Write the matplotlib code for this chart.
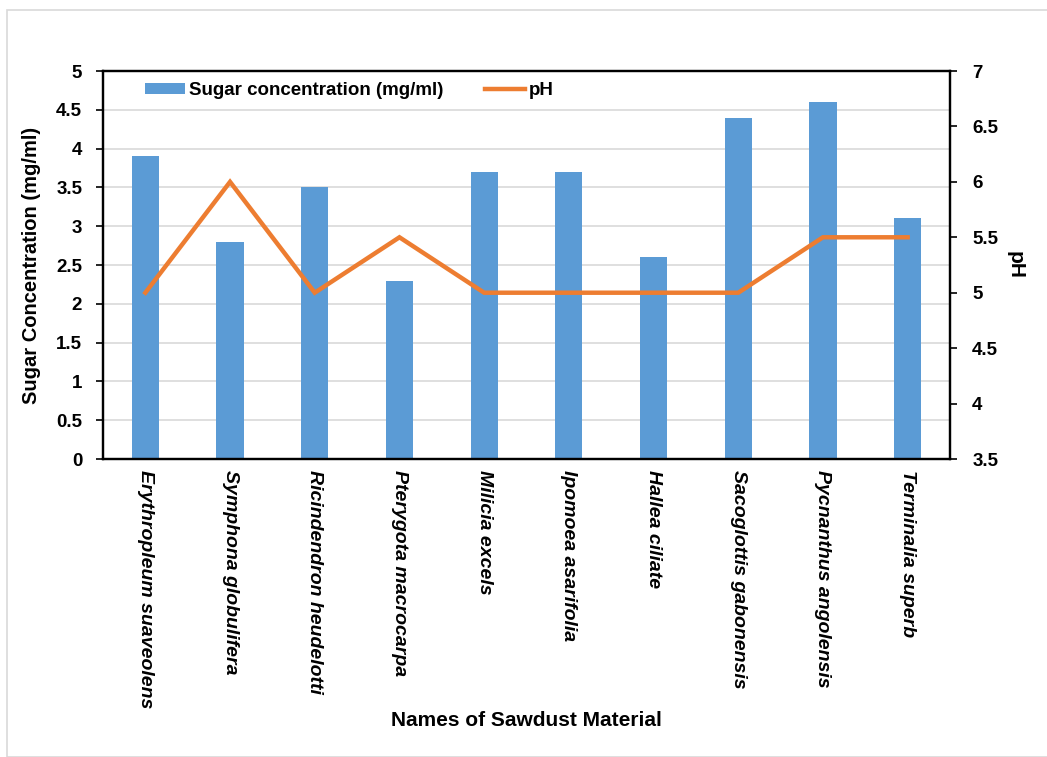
import matplotlib.pyplot as plt
from matplotlib.patches import Rectangle

# sawdust samples and measured values
species = ['Erythropleum suaveolens', 'Symphona globulifera', 'Ricindendron heudelotti',
           'Pterygota macrocarpa', 'Milicia excels', 'Ipomoea asarifolia', 'Hallea ciliate',
           'Sacoglottis gabonensis', 'Pycnanthus angolensis', 'Terminalia superb']
sugar = [3.9, 2.8, 3.5, 2.3, 3.7, 3.7, 2.6, 4.4, 4.6, 3.1]
ph = [5.0, 6.0, 5.0, 5.5, 5.0, 5.0, 5.0, 5.0, 5.5, 5.5]

sugar_ticks = [0, 0.5, 1, 1.5, 2, 2.5, 3, 3.5, 4, 4.5, 5]
ph_ticks = [3.5, 4, 4.5, 5, 5.5, 6, 6.5, 7]

plt.rcParams['font.family'] = ['Liberation Sans', 'DejaVu Sans']
plt.rcParams['font.weight'] = 'bold'

fig = plt.figure(figsize=(10.47, 7.57), dpi=100)
# light grey frame around the whole chart area
fig.patches.append(Rectangle((7 / 1047, 0.0), 1.05, 1 - 10 / 757, transform=fig.transFigure,
                             fill=False, edgecolor='#d9d9d9', linewidth=1.2))

ax = fig.add_axes([103 / 1047, 1 - 459 / 757, 847 / 1047, 388 / 757])
x = range(len(species))
bars = ax.bar(x, sugar, width=0.32, color='#5b9bd5', zorder=2)
ax.set_xlim(-0.5, len(species) - 0.5)
ax.set_ylim(0, 5)
ax.set_yticks(sugar_ticks)
ax.set_yticklabels([f'{t:g}' for t in sugar_ticks], fontsize=13.5, fontweight='bold')
ax.yaxis.grid(True, color='#d9d9d9', linewidth=1.2, zorder=0)
ax.set_axisbelow(True)
ax.set_xticks(list(x))
ax.set_xticklabels(species, rotation=270, fontsize=14, fontstyle='italic', fontweight='bold',
                   va='top', ha='center')
ax.tick_params(axis='x', length=0, pad=8)
ax.tick_params(axis='y', length=5, width=1.2, pad=10)
for s in ax.spines.values():
    s.set_linewidth(1.6)

ax.set_ylabel('Sugar Concentration (mg/ml)', fontsize=14.5, fontweight='bold')
ax.yaxis.label.set_va('center')
ax.yaxis.set_label_coords(-0.085, 0.5)
ax.set_xlabel('Names of Sawdust Material', fontsize=15, fontweight='bold')
ax.xaxis.label.set_va('center')
ax.xaxis.set_label_coords(0.5, -0.675)

ax2 = ax.twinx()
line, = ax2.plot(list(x), ph, color='#ed7d31', linewidth=3.2, solid_joinstyle='miter')
ax2.set_ylim(3.5, 7)
ax2.set_yticks(ph_ticks)
ax2.set_yticklabels([f'{t:g}' for t in ph_ticks], fontsize=13.5, fontweight='bold')
ax2.tick_params(axis='y', length=5, width=1.2, pad=11)
for s in ax2.spines.values():
    s.set_linewidth(1.6)
ax2.set_ylabel('pH', fontsize=15, fontweight='bold', rotation=270)
ax2.yaxis.label.set_va('center')
ax2.yaxis.set_label_coords(1.0767, 0.5)

ax.legend([bars, line], ['Sugar concentration (mg/ml)', 'pH'], loc='upper left',
          bbox_to_anchor=(42 / 847, 0.972), ncol=2, frameon=False,
          borderpad=0, borderaxespad=0, handlelength=2.15, handleheight=0.55,
          handletextpad=0.2, columnspacing=2.2, prop={'weight': 'bold', 'size': 13.5})

fig.savefig('out.png', dpi=100)
